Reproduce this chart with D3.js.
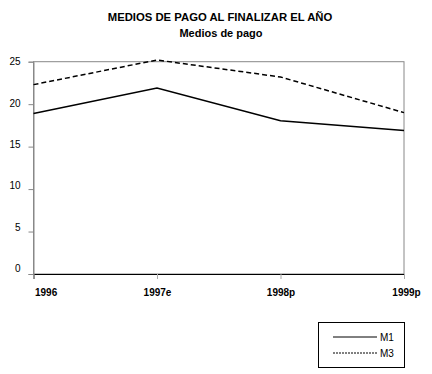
<!DOCTYPE html>
<html><head><meta charset="utf-8">
<script src="https://cdn.jsdelivr.net/npm/d3@7"></script>
<style>
body{margin:0;background:#fff;}
text{font-family:"Liberation Sans",Arial,sans-serif;fill:#000;}
</style></head>
<body>
<script>
const categories = ["1996","1997e","1998p","1999p"];
const m1 = [18.9, 21.9, 18.05, 16.9];
const m3 = [22.3, 25.2, 23.2, 19.0];
const yTicks = [0,5,10,15,20,25];
const seriesNames = ["M1","M3"];

const W=432,H=374;
const svg=d3.select("body").append("svg").attr("width",W).attr("height",H);
const L=33.5,R=404,T=61.7,B=274;
const x=d3.scalePoint().domain(categories).range([L,R]).padding(0);
const y=d3.scaleLinear().domain([0,25]).range([B,T]);

svg.append("text").attr("x",220).attr("y",21).attr("text-anchor","middle")
  .attr("font-size",11.3).attr("font-weight","bold").text("MEDIOS DE PAGO AL FINALIZAR EL AÑO");
svg.append("text").attr("x",221).attr("y",37).attr("text-anchor","middle")
  .attr("font-size",11).attr("font-weight","bold").text("Medios de pago");

// plot frame
svg.append("rect").attr("x",L).attr("y",T).attr("width",R-L).attr("height",B-T)
  .attr("fill","none").attr("stroke","#888").attr("stroke-width",1);

// y axis
const ya=svg.append("g").attr("transform",`translate(${L},0)`)
  .call(d3.axisLeft(y).tickValues(yTicks).tickSize(5).tickPadding(8));
ya.select(".domain").attr("stroke","#888");
ya.selectAll(".tick line").attr("stroke","#888");
ya.selectAll("text").attr("font-size",10).attr("font-family","Liberation Sans, Arial, sans-serif")
  .attr("dy",d=>(0.32 - (25-d)/25*0.55)+"em");

// x axis
const xa=svg.append("g").attr("transform",`translate(0,${B})`)
  .call(d3.axisBottom(x).tickSize(5).tickPadding(10));
xa.select(".domain").attr("stroke","#000");
xa.selectAll(".tick line").attr("stroke","#aaa");
xa.selectAll("text").attr("font-size",10).attr("font-weight","bold").attr("font-family","Liberation Sans, Arial, sans-serif")
  .attr("text-anchor",(d,i)=> i===0?"start":"middle")
  .attr("dx",(d,i)=> i===0? 1 : (i===categories.length-1? 2 : 0));

const line=d3.line().x((d,i)=>x(categories[i])).y(d=>y(d));
svg.append("path").datum(m1).attr("d",line).attr("fill","none").attr("stroke","#000").attr("stroke-width",1.5);
svg.append("path").datum(m3).attr("d",line).attr("fill","none").attr("stroke","#000").attr("stroke-width",1.5).attr("stroke-dasharray","5,3");

// legend
const lg=svg.append("g");
lg.append("rect").attr("x",318.5).attr("y",322.5).attr("width",86).attr("height",45).attr("fill","none").attr("stroke","#000");
seriesNames.forEach((n,i)=>{
  const yy=337+i*16;
  lg.append("line").attr("x1",333).attr("x2",377).attr("y1",yy).attr("y2",yy).attr("stroke","#000")
    .attr("stroke-dasharray",i===1?"2,1":null);
  lg.append("text").attr("x",380).attr("y",yy+4).attr("font-size",10).text(n);
});
</script>
</body></html>
